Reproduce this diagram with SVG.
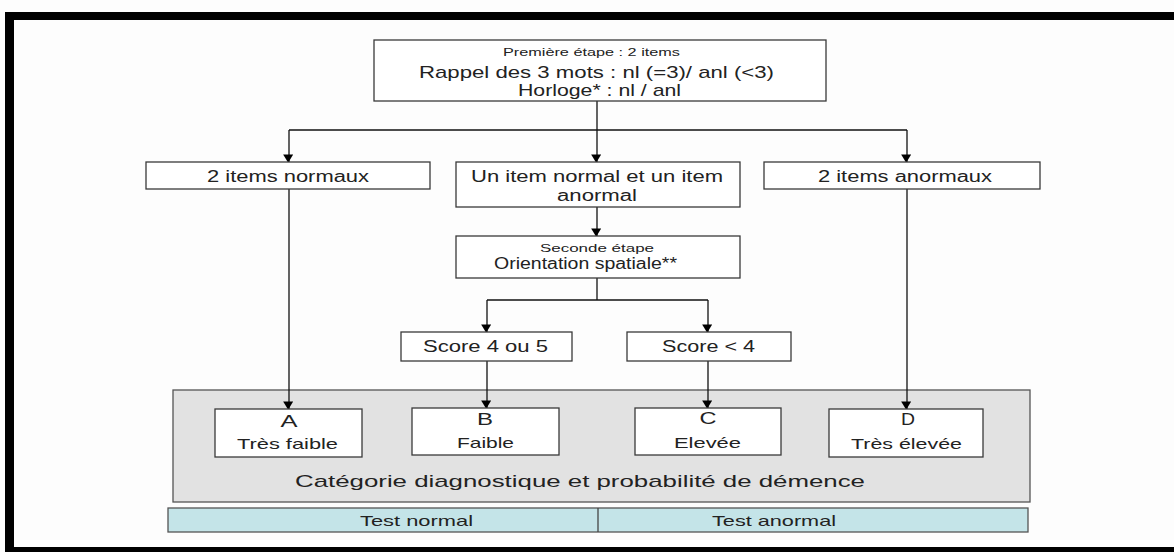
<svg xmlns="http://www.w3.org/2000/svg" width="1174" height="552" viewBox="0 0 1174 552">
<style>
.box{fill:#ffffff;stroke:#3a3a3a;stroke-width:1.3}
.t{font-family:"Liberation Sans",Arial,sans-serif;fill:#222}
.conn{stroke:#111;stroke-width:1.3;fill:none}
</style>
<defs>
<marker id="ad" markerUnits="userSpaceOnUse" markerWidth="12" markerHeight="10" refX="9" refY="5" orient="auto" viewBox="0 0 10 12">
<path d="M0,0 L10,6 L0,12 Z" fill="#000"/>
</marker>
</defs>
<rect x="0" y="0" width="1174" height="552" fill="#fdfdfd"/>
<g id="frame">
<rect x="5" y="12" width="1169" height="8" fill="#000"/>
<rect x="5" y="12" width="9" height="540" fill="#000"/>
<rect x="5" y="547" width="1169" height="5" fill="#000"/>
</g>
<g id="categories">
<rect x="173" y="390" width="857" height="112" fill="#e2e2e2" stroke="#555" stroke-width="1.3"/>
<text class="t" x="295" y="487" font-size="17" textLength="570" lengthAdjust="spacingAndGlyphs">Catégorie diagnostique et probabilité de démence</text>
</g>
<g id="bar">
<rect x="168" y="508" width="860" height="24" fill="#c4e4e8" stroke="#555" stroke-width="1.3"/>
<line x1="598" y1="508" x2="598" y2="532" stroke="#444" stroke-width="1.3"/>
<text class="t" x="360" y="526" font-size="15" textLength="113" lengthAdjust="spacingAndGlyphs">Test normal</text>
<text class="t" x="712" y="526" font-size="15" textLength="124" lengthAdjust="spacingAndGlyphs">Test anormal</text>
</g>
<g id="connectors">
<polyline class="conn" points="597,101 597,130"/>
<line class="conn" x1="289" y1="130" x2="907" y2="130"/>
<line class="conn" x1="289" y1="130" x2="289" y2="162" marker-end="url(#ad)"/>
<line class="conn" x1="597" y1="130" x2="597" y2="162" marker-end="url(#ad)"/>
<line class="conn" x1="907" y1="130" x2="907" y2="162" marker-end="url(#ad)"/>
<line class="conn" x1="597" y1="207" x2="597" y2="236" marker-end="url(#ad)"/>
<line class="conn" x1="597" y1="278" x2="597" y2="300"/>
<line class="conn" x1="487" y1="300" x2="708" y2="300"/>
<line class="conn" x1="487" y1="300" x2="487" y2="332" marker-end="url(#ad)"/>
<line class="conn" x1="708" y1="300" x2="708" y2="332" marker-end="url(#ad)"/>
<line class="conn" x1="289" y1="189" x2="289" y2="409" marker-end="url(#ad)"/>
<line class="conn" x1="487" y1="361" x2="487" y2="408" marker-end="url(#ad)"/>
<line class="conn" x1="708" y1="361" x2="708" y2="408" marker-end="url(#ad)"/>
<line class="conn" x1="907" y1="189" x2="907" y2="409" marker-end="url(#ad)"/>
</g>
<g id="step1">
<rect class="box" x="374" y="40" width="452" height="61"/>
<text class="t" x="503" y="56" font-size="10.5" textLength="177" lengthAdjust="spacingAndGlyphs">Première étape : 2 items</text>
<text class="t" x="419" y="78" font-size="17" textLength="355" lengthAdjust="spacingAndGlyphs">Rappel des 3 mots : nl (=3)/ anl (&lt;3)</text>
<text class="t" x="518" y="96" font-size="17" textLength="163" lengthAdjust="spacingAndGlyphs">Horloge* : nl / anl</text>
</g>
<g id="normaux">
<rect class="box" x="146" y="162" width="284" height="27"/>
<text class="t" x="207" y="182" font-size="16" textLength="162" lengthAdjust="spacingAndGlyphs">2 items normaux</text>
</g>
<g id="mixte">
<rect class="box" x="456" y="162" width="284" height="45"/>
<text class="t" x="471" y="182" font-size="16" textLength="252" lengthAdjust="spacingAndGlyphs">Un item normal et un item</text>
<text class="t" x="557" y="201" font-size="16" textLength="80" lengthAdjust="spacingAndGlyphs">anormal</text>
</g>
<g id="anormaux">
<rect class="box" x="764" y="162" width="276" height="27"/>
<text class="t" x="818" y="182" font-size="16" textLength="174" lengthAdjust="spacingAndGlyphs">2 items anormaux</text>
</g>
<g id="step2">
<rect class="box" x="456" y="236" width="284" height="42"/>
<text class="t" x="540" y="252" font-size="10.5" textLength="114" lengthAdjust="spacingAndGlyphs">Seconde étape</text>
<text class="t" x="494" y="269" font-size="16" textLength="183" lengthAdjust="spacingAndGlyphs">Orientation spatiale**</text>
</g>
<g id="score45">
<rect class="box" x="401" y="332" width="171" height="29"/>
<text class="t" x="423" y="352" font-size="16" textLength="125" lengthAdjust="spacingAndGlyphs">Score 4 ou 5</text>
</g>
<g id="score4">
<rect class="box" x="627" y="332" width="164" height="29"/>
<text class="t" x="662" y="352" font-size="16" textLength="93" lengthAdjust="spacingAndGlyphs">Score &lt; 4</text>
</g>
<g id="catA">
<rect class="box" x="215" y="409" width="147" height="48"/>
<text class="t" x="289" y="427" font-size="16" text-anchor="middle" textLength="17" lengthAdjust="spacingAndGlyphs">A</text>
<text class="t" x="237" y="449" font-size="15" textLength="101" lengthAdjust="spacingAndGlyphs">Très faible</text>
</g>
<g id="catB">
<rect class="box" x="412" y="408" width="147" height="47"/>
<text class="t" x="485" y="425" font-size="16" text-anchor="middle" textLength="16" lengthAdjust="spacingAndGlyphs">B</text>
<text class="t" x="457" y="448" font-size="15" textLength="57" lengthAdjust="spacingAndGlyphs">Faible</text>
</g>
<g id="catC">
<rect class="box" x="635" y="408" width="146" height="47"/>
<text class="t" x="708" y="424" font-size="16" text-anchor="middle" textLength="17" lengthAdjust="spacingAndGlyphs">C</text>
<text class="t" x="674" y="448" font-size="15" textLength="67" lengthAdjust="spacingAndGlyphs">Elevée</text>
</g>
<g id="catD">
<rect class="box" x="829" y="409" width="154" height="48"/>
<text class="t" x="908" y="425" font-size="16" text-anchor="middle" textLength="14" lengthAdjust="spacingAndGlyphs">D</text>
<text class="t" x="851" y="449" font-size="15" textLength="111" lengthAdjust="spacingAndGlyphs">Très élevée</text>
</g>
</svg>
